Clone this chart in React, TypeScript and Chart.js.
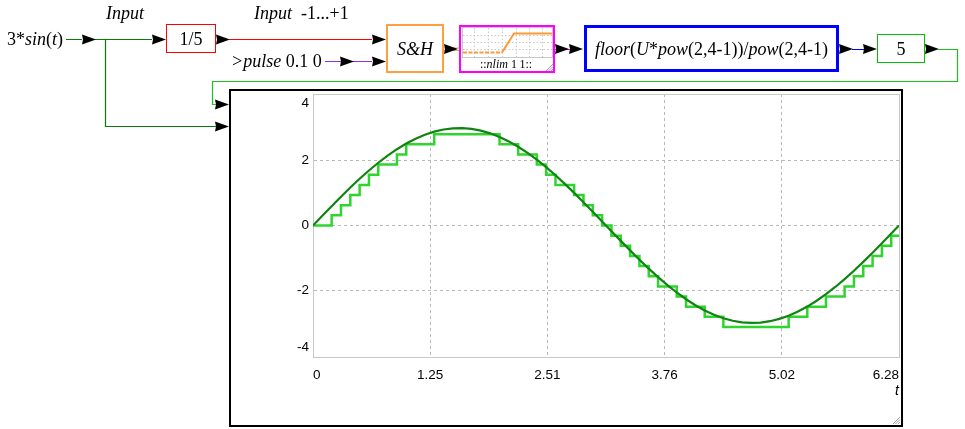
import React, { useEffect, useRef } from 'react';
import { Chart, registerables } from 'chart.js';

Chart.register(...registerables);

// t values (sample instants of the pulse, 0.1 apart, plus the end of the run at 2π)
const timeValues = [
  0, 0.1, 0.2, 0.3, 0.4, 0.5, 0.6, 0.7, 0.8, 0.9,
  1.0, 1.1, 1.2, 1.3, 1.4, 1.5, 1.6, 1.7, 1.8, 1.9,
  2.0, 2.1, 2.2, 2.3, 2.4, 2.5, 2.6, 2.7, 2.8, 2.9,
  3.0, 3.1, 3.2, 3.3, 3.4, 3.5, 3.6, 3.7, 3.8, 3.9,
  4.0, 4.1, 4.2, 4.3, 4.4, 4.5, 4.6, 4.7, 4.8, 4.9,
  5.0, 5.1, 5.2, 5.3, 5.4, 5.5, 5.6, 5.7, 5.8, 5.9,
  6.0, 6.1, 6.2, 6.2832,
];

// input 3*sin(t)
const sineValues = [
  0, 0.2995, 0.596, 0.8866, 1.1683, 1.4383, 1.6939, 1.9327, 2.1521, 2.35,
  2.5244, 2.6736, 2.7961, 2.8907, 2.9564, 2.9925, 2.9987, 2.975, 2.9216, 2.8389,
  2.7279, 2.5896, 2.4255, 2.2371, 2.0264, 1.7954, 1.5465, 1.2821, 1.005, 0.7178,
  0.4234, 0.1247, -0.1751, -0.4733, -0.7666, -1.0523, -1.3276, -1.5895, -1.8356, -2.0633,
  -2.2704, -2.4548, -2.6147, -2.7485, -2.8548, -2.9326, -2.9811, -2.9998, -2.9885, -2.9474,
  -2.8768, -2.7774, -2.6504, -2.4968, -2.3183, -2.1166, -1.8938, -1.6521, -1.3938, -1.1216,
  -0.8383, -0.5465, -0.2493, 0,
];

// sampled & quantised output (held until the next sample)
const heldValues = [
  0, 0, 0.3125, 0.625, 0.9375, 1.25, 1.5625, 1.875, 1.875, 2.1875,
  2.5, 2.5, 2.5, 2.8125, 2.8125, 2.8125, 2.8125, 2.8125, 2.8125, 2.8125,
  2.5, 2.5, 2.1875, 2.1875, 1.875, 1.5625, 1.25, 1.25, 0.9375, 0.625,
  0.3125, 0, -0.3125, -0.625, -0.9375, -1.25, -1.5625, -1.875, -1.875, -2.1875,
  -2.5, -2.5, -2.8125, -2.8125, -3.125, -3.125, -3.125, -3.125, -3.125, -3.125,
  -3.125, -2.8125, -2.8125, -2.5, -2.5, -2.1875, -2.1875, -1.875, -1.5625, -1.25,
  -0.9375, -0.625, -0.3125, -0.3125,
];

const xTickValues = [0, 1.2566, 2.5133, 3.7699, 5.0265, 6.2832];
const xTickLabels = ['0', '1.25', '2.51', '3.76', '5.02', '6.28'];
const yTickValues = [-4, -2, 0, 2, 4];
const yTickLabels = ['-4', '-2', '0', '2', '4'];

const SERIF = "'Liberation Serif', 'Times New Roman', serif";
const SANS = "Arial, 'Liberation Sans', sans-serif";

function Arrow({ x, y }: { x: number; y: number }) {
  return (
    <polygon
      points={`${x},${y - 5} ${x + 14},${y} ${x},${y + 5} ${x + 1},${y}`}
      fill="#000"
    />
  );
}

function Grip({ x, y }: { x: number; y: number }) {
  return (
    <g stroke="#a0a0a0" strokeWidth={1}>
      <line x1={x - 7} y1={y} x2={x} y2={y - 7} />
      <line x1={x - 4.5} y1={y} x2={x} y2={y - 4.5} />
      <line x1={x - 2} y1={y} x2={x} y2={y - 2} />
    </g>
  );
}

function Diagram() {
  const dark = '#0a7a0a';
  const fb = '#1ec01e';
  return (
    <svg
      width={965}
      height={429}
      style={{ position: 'absolute', left: 0, top: 0, pointerEvents: 'none' }}
      fontFamily={SERIF}
    >
      {/* source */}
      <text x={7} y={45} fontSize={18} fill="#000">
        3*<tspan fontStyle="italic">sin</tspan>(<tspan fontStyle="italic">t</tspan>)
      </text>
      <text x={106} y={19} fontSize={18} fontStyle="italic" fill="#000">Input</text>
      <path d="M66,39.5 H82 M94,39.5 H152 M105.5,39.5 V126.5 H216" stroke={dark} strokeWidth={1.2} fill="none" />
      <Arrow x={82} y={39.5} />
      <Arrow x={152} y={39.5} />
      <Arrow x={215} y={126.5} />

      {/* 1/5 */}
      <rect x={166.5} y={24.5} width={49} height={28} fill="#fff" stroke="#ff0000" strokeWidth={1} />
      <text x={191} y={45} fontSize={18} textAnchor="middle" fill="#000">1/5</text>
      <Arrow x={216} y={39.5} />
      <path d="M229,39.5 H372" stroke="#ff0000" strokeWidth={1} />
      <Arrow x={372} y={39.5} />
      <text x={254} y={19} fontSize={18} fill="#000">
        <tspan fontStyle="italic">Input</tspan>
        <tspan dx={9}>-1...+1</tspan>
      </text>

      {/* pulse */}
      <text x={231} y={66.5} fontSize={18} fill="#000">
        <tspan fontStyle="italic">&gt;pulse</tspan>
        <tspan dx={4.5}>0.1</tspan>
        <tspan dx={4.5}>0</tspan>
      </text>
      <path d="M325,61.5 H372" stroke="#9030e0" strokeWidth={1.2} />
      <Arrow x={340} y={61.5} />
      <Arrow x={372} y={61.5} />

      {/* S&H */}
      <rect x={387} y={25} width={56} height={47} fill="#fff" stroke="#ffa040" strokeWidth={2} />
      <text x={415} y={55} fontSize={18} fontStyle="italic" textAnchor="middle" fill="#000">S&amp;H</text>
      <path d="M444,48 H459 M444,50.5 H459" stroke="#ffa040" strokeWidth={1} />
      <Arrow x={444} y={49} />

      {/* nlim */}
      <rect x={460} y={26} width={94} height={46} fill="#fff" stroke="#ff00ff" strokeWidth={2} />
      <rect x={462.5} y={27.5} width={90} height={30} fill="#fff" stroke="#c8c8c8" strokeWidth={1} />
      <g stroke="#c8c8c8" strokeWidth={1} strokeDasharray="1.5 2">
        <line x1={474.5} y1={28} x2={474.5} y2={57} />
        <line x1={488.5} y1={28} x2={488.5} y2={57} />
        <line x1={502.5} y1={28} x2={502.5} y2={57} />
        <line x1={516.5} y1={28} x2={516.5} y2={57} />
        <line x1={529.5} y1={28} x2={529.5} y2={57} />
        <line x1={542.5} y1={28} x2={542.5} y2={57} />
        <line x1={463} y1={35.5} x2={552} y2={35.5} />
        <line x1={463} y1={42.5} x2={552} y2={42.5} />
        <line x1={463} y1={49.5} x2={552} y2={49.5} />
      </g>
      <path d="M463,52.5 H502" stroke="#ff9933" strokeWidth={2} strokeDasharray="4 1.5" fill="none" />
      <path d="M502,52.5 L514,33.5 H552" stroke="#ff9933" strokeWidth={2} fill="none" />
      <text x={506} y={68} fontSize={12} textAnchor="middle" fill="#000">
        ::<tspan fontStyle="italic">nlim</tspan>
        <tspan dx={3}>1</tspan>
        <tspan dx={3}>1::</tspan>
      </text>
      <Grip x={553} y={71} />
      <path d="M555,49.5 H570" stroke="#ff00ff" strokeWidth={1} />
      <Arrow x={555} y={49} />
      <Arrow x={569} y={49} />

      {/* floor */}
      <rect x={585.5} y={26.5} width={252} height={44} fill="#fff" stroke="#0000ff" strokeWidth={3} />
      <text x={711.5} y={55} fontSize={18} textAnchor="middle" fill="#000">
        <tspan fontStyle="italic">floor</tspan>(<tspan fontStyle="italic">U</tspan>*<tspan fontStyle="italic">pow</tspan>(2,4-1))/<tspan fontStyle="italic">pow</tspan>(2,4-1)
      </text>
      <Arrow x={839} y={49} />
      <path d="M852,49.5 H864" stroke="#0000ff" strokeWidth={1} />
      <Arrow x={863} y={49} />

      {/* gain 5 */}
      <rect x={877.5} y={34.5} width={47} height={28} fill="#fff" stroke="#00c000" strokeWidth={1} />
      <text x={901} y={55} fontSize={18} textAnchor="middle" fill="#000">5</text>
      <Arrow x={925} y={49} />
      <path d="M938,49.5 H957.5 V81.5 H212.5 V104.5 H216" stroke={fb} strokeWidth={1.2} fill="none" />
      <Arrow x={215} y={104.5} />

      {/* chart frame */}
      <rect x={230} y={90} width={672} height={336} fill="none" stroke="#000" strokeWidth={2} />
      <Grip x={900} y={424} />
    </svg>
  );
}

const framePlugin = {
  id: 'plotFrame',
  beforeDatasetsDraw(chart: any) {
    const { ctx, chartArea } = chart;
    ctx.save();
    ctx.strokeStyle = '#c8c8c8';
    ctx.lineWidth = 1;
    ctx.strokeRect(
      Math.round(chartArea.left) + 0.5,
      Math.round(chartArea.top) + 0.5,
      Math.round(chartArea.right - chartArea.left),
      Math.round(chartArea.bottom - chartArea.top)
    );
    ctx.restore();
  },
};

function ScopeChart() {
  const ref = useRef<HTMLCanvasElement | null>(null);
  useEffect(() => {
    if (!ref.current) return;
    const sine = timeValues.map((t, i) => ({ x: t, y: sineValues[i] }));
    const held = timeValues.map((t, i) => ({ x: t, y: heldValues[i] }));
    const lastX = xTickValues.length - 1;
    const lastY = yTickValues.length - 1;
    const chart = new Chart(ref.current, {
      type: 'line',
      data: {
        datasets: [
          {
            label: '3*sin(t)',
            data: sine,
            borderColor: '#0f850f',
            borderWidth: 2.2,
            pointRadius: 0,
            tension: 0,
            fill: false,
          },
          {
            label: 'S&H',
            data: held,
            borderColor: '#2fd42f',
            borderWidth: 2.5,
            pointRadius: 0,
            stepped: true,
            fill: false,
          },
        ],
      },
      options: {
        animation: false,
        responsive: false,
        maintainAspectRatio: false,
        events: [],
        layout: { padding: { left: 42, top: 3, right: 2, bottom: 24 } },
        plugins: { legend: { display: false }, tooltip: { enabled: false }, title: { display: false } },
        scales: {
          x: {
            type: 'linear',
            min: 0,
            max: 6.2832,
            afterBuildTicks: (s: any) => {
              s.ticks = xTickValues.map((v) => ({ value: v }));
            },
            afterFit: (s: any) => {
              s.height = 43;
              s.paddingLeft = 0;
              s.paddingRight = 0;
            },
            grid: {
              drawTicks: false,
              lineWidth: 1,
              color: (c: any) => (c.index === 0 || c.index === lastX ? 'rgba(0,0,0,0)' : '#b8b8b8'),
            },
            border: { display: true, color: '#c8c8c8', width: 1, dash: [3, 3] },
            ticks: {
              align: 'inner',
              padding: 10,
              autoSkip: false,
              maxRotation: 0,
              color: '#000',
              font: { family: SANS, size: 13.5 },
              callback: (_v: any, i: number) => xTickLabels[i],
            },
            title: {
              display: true,
              text: 't',
              align: 'end',
              color: '#000',
              padding: 0,
              font: { family: SANS, size: 14, style: 'italic' },
            },
          },
          y: {
            type: 'linear',
            min: -4.05,
            max: 4.05,
            afterBuildTicks: (s: any) => {
              s.ticks = yTickValues.map((v) => ({ value: v }));
            },
            afterFit: (s: any) => {
              s.width = 40;
              s.paddingTop = 0;
              s.paddingBottom = 0;
            },
            grid: {
              drawTicks: false,
              lineWidth: 1,
              color: (c: any) => (c.index === 0 || c.index === lastY ? 'rgba(0,0,0,0)' : '#b8b8b8'),
            },
            border: { display: true, color: '#c8c8c8', width: 1, dash: [3, 3] },
            ticks: {
              padding: 4,
              autoSkip: false,
              color: '#000',
              font: { family: SANS, size: 13.5 },
              callback: (_v: any, i: number) =>
                i === 0 ? [yTickLabels[i], ''] : i === lastY ? ['', yTickLabels[i]] : yTickLabels[i],
            },
          },
        },
      } as any,
      plugins: [framePlugin],
    });
    return () => chart.destroy();
  }, []);
  return (
    <canvas
      ref={ref}
      width={670}
      height={333}
      style={{ position: 'absolute', left: 231, top: 91, width: 670, height: 333 }}
    />
  );
}

export default function App() {
  return (
    <div style={{ position: 'absolute', left: 0, top: 0, width: 965, height: 429, background: '#fff', overflow: 'hidden' }}>
      <ScopeChart />
      <Diagram />
    </div>
  );
}
